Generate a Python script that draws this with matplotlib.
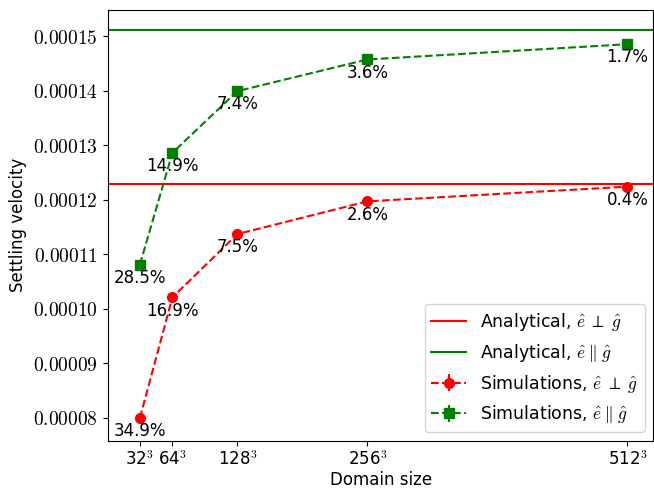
import matplotlib
matplotlib.use("Agg")
import matplotlib.pyplot as plt
from matplotlib.ticker import FuncFormatter

plt.rcParams['mathtext.fontset'] = 'cm'

# domain sizes (N for N^3 grids)
sizes = [32, 64, 128, 256, 512]
size_labels = ['32$^3$', '64$^3$', '128$^3$', '256$^3$', '512$^3$']

# analytical settling velocities
v_perp_analytical = 0.0001229
v_par_analytical = 0.0001511

# simulated settling velocities
v_perp_sim = [0.0000800, 0.0001021, 0.0001137, 0.0001197, 0.0001224]
v_par_sim = [0.0001081, 0.0001286, 0.0001399, 0.0001457, 0.0001485]
err_perp = [0, 0, 0, 0, 0]
err_par = [0, 0, 0, 0, 0]

fig = plt.figure(figsize=(6.54, 4.91), dpi=100)
ax = fig.add_axes([0.165, 0.102, 0.834, 0.878])

ax.axhline(v_perp_analytical, color='red', lw=1.5, label=r'Analytical, $\hat{e}\;\perp\;\hat{g}$')
ax.axhline(v_par_analytical, color='green', lw=1.5, label=r'Analytical, $\hat{e}\;\|\;\hat{g}$')
ax.errorbar(sizes, v_perp_sim, yerr=err_perp, fmt='o--', color='red', ms=7, lw=1.5,
            label=r'Simulations, $\hat{e}\;\perp\;\hat{g}$')
ax.errorbar(sizes, v_par_sim, yerr=err_par, fmt='s--', color='green', ms=7, lw=1.5,
            label=r'Simulations, $\hat{e}\;\|\;\hat{g}$')

# relative error labels under each point
for vals, ref in [(v_perp_sim, v_perp_analytical), (v_par_sim, v_par_analytical)]:
    for x, v in zip(sizes, vals):
        pct = (1 - v / ref) * 100
        ax.annotate(f'{pct:.1f}%', (x, v), xytext=(0, -3), textcoords='offset points',
                    ha='center', va='top', fontsize=12)

ax.set_xlim(0.5, 537.5)
ax.set_ylim(0.0000758, 0.0001548)
ax.set_xticks(sizes)
ax.set_xticklabels(size_labels, fontsize=12)
ax.set_yticks([0.00008, 0.00009, 0.00010, 0.00011, 0.00012, 0.00013, 0.00014, 0.00015])
ax.yaxis.set_major_formatter(FuncFormatter(lambda v, p: f'${v:.5f}$'))
ax.tick_params(axis='y', labelsize=14)
ax.set_xlabel('Domain size', fontsize=12, labelpad=1)
ax.set_ylabel('Settling velocity', fontsize=12)
ax.legend(loc='lower right', fontsize=12.5)

plt.savefig('out.png', dpi=100)
plt.close()
